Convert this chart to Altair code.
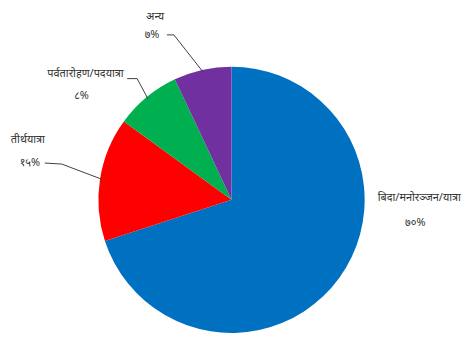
import math
import altair as alt
import pandas as pd

categories = ["बिदा/मनोरञ्जन/यात्रा", "तीर्थयात्रा", "पर्वतारोहण/पदयात्रा", "अन्य"]
shares = [70, 15, 8, 7]
share_labels = ["७०%", "१५%", "८%", "७%"]
colors = ["#0070C0", "#FF0000", "#00B050", "#7030A0"]

# ---- layout (plot-area pixel coordinates) ----
CX, CY, R = 225, 192, 134
name_pos = [(414, 190), (20, 132), (78, 65), (148, 8)]
pct_pos = [(410, 215), (22, 155), (74, 88), (145, 26)]
stubs = [None, [(37, 155), (54, 156)], [(120, 70), (130, 70)], [(160, 26), (167, 26)]]

pie_df = pd.DataFrame({"cat": categories, "share": shares, "order": list(range(len(shares)))})

# label table
lab_rows = []
for i, c in enumerate(categories):
    lab_rows.append({"text": c, "x": name_pos[i][0], "y": name_pos[i][1]})
    lab_rows.append({"text": share_labels[i], "x": pct_pos[i][0], "y": pct_pos[i][1]})
lab_df = pd.DataFrame(lab_rows)

# leader lines: stub points + slice edge at mid-angle of the slice
total = sum(shares)
line_rows = []
cum = 0
for i, s in enumerate(shares):
    mid = (cum + s / 2) / total * 2 * math.pi
    cum += s
    if stubs[i] is None:
        continue
    k = 0
    for (px, py) in stubs[i]:
        line_rows.append({"seg": i, "k": k, "x": px, "y": py})
        k += 1
    ex = CX + (R - 2) * math.sin(mid)
    ey = CY - (R - 2) * math.cos(mid)
    line_rows.append({"seg": i, "k": k, "x": ex, "y": ey})
line_df = pd.DataFrame(line_rows)

pie = alt.Chart(pie_df).mark_arc(radius=R).encode(
    theta=alt.Theta("share:Q", stack=True),
    order=alt.Order("order:Q"),
    color=alt.Color("cat:N", scale=alt.Scale(domain=categories, range=colors), legend=None),
    x=alt.value(CX),
    y=alt.value(CY),
)

lines = alt.Chart(line_df).mark_line(color="#404040", strokeWidth=1).encode(
    x=alt.X("x:Q", scale=None),
    y=alt.Y("y:Q", scale=None),
    detail="seg:N",
    order="k:Q",
)

labels = alt.Chart(lab_df).mark_text(
    font="Noto Sans", fontSize=11, color="#333333", align="center", baseline="middle"
).encode(
    x=alt.X("x:Q", scale=None),
    y=alt.Y("y:Q", scale=None),
    text="text:N",
)

chart = alt.layer(pie, lines, labels).properties(
    width=453, height=322, padding=0
).configure(background="white").configure_view(stroke=None, strokeWidth=0)

chart.save("out.html", embed_options={"renderer": "svg", "actions": False})
